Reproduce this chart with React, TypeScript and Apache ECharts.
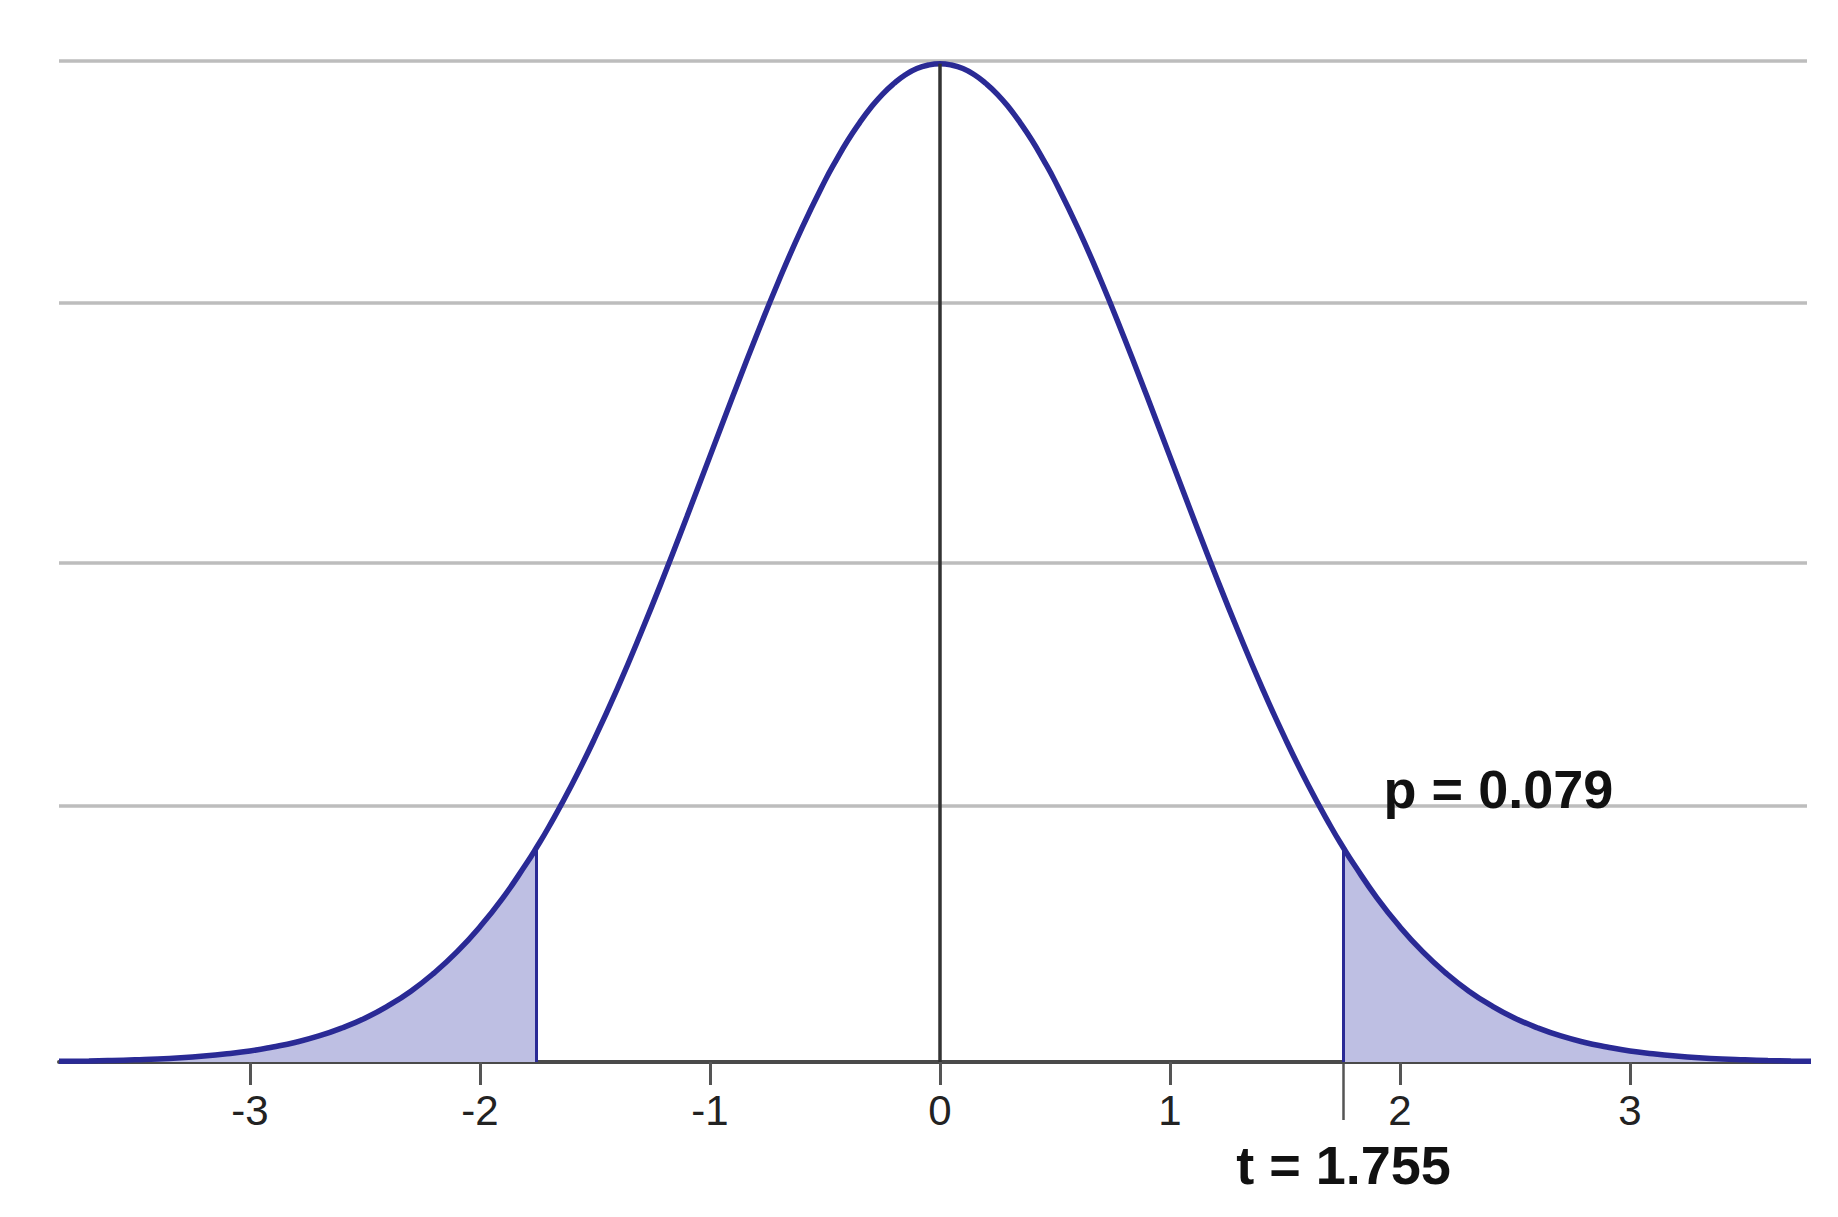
import React, { useEffect, useRef } from "react";
import * as echarts from "echarts";

// t values (x) and the density (y)
const tValues = [
  -3.83, -3.7, -3.6, -3.5, -3.4, -3.3, -3.2, -3.1, -3.0, -2.9, -2.8, -2.7, -2.6, -2.5, -2.4, -2.3, -2.2, -2.1, -2.0,
  -1.9, -1.8, -1.755, -1.7, -1.6, -1.5, -1.4, -1.3, -1.2, -1.1, -1.0, -0.9, -0.8, -0.7, -0.6,
  -0.5, -0.45, -0.4, -0.35, -0.3, -0.25, -0.2, -0.15, -0.1, -0.05,
  0, 0.05, 0.1, 0.15, 0.2, 0.25, 0.3, 0.35, 0.4, 0.45, 0.5,
  0.6, 0.7, 0.8, 0.9, 1.0, 1.1, 1.2, 1.3, 1.4, 1.5, 1.6, 1.7, 1.755, 1.8, 1.9,
  2.0, 2.1, 2.2, 2.3, 2.4, 2.5, 2.6, 2.7, 2.8, 2.9, 3.0, 3.1, 3.2, 3.3, 3.4, 3.5, 3.6, 3.7, 3.8,
];
const density = [
  0.0003, 0.0004, 0.0006, 0.0009, 0.0012, 0.0017, 0.0024, 0.0033, 0.0044, 0.006, 0.0079, 0.0104, 0.0136, 0.0175, 0.0224, 0.0283, 0.0355, 0.044, 0.054,
  0.0656, 0.079, 0.0855, 0.094, 0.1109, 0.1295, 0.1497, 0.1714, 0.1942, 0.2179, 0.242, 0.2661, 0.2897, 0.3123, 0.3332,
  0.3521, 0.3605, 0.3683, 0.3752, 0.3814, 0.3867, 0.391, 0.3945, 0.397, 0.3984,
  0.3989, 0.3984, 0.397, 0.3945, 0.391, 0.3867, 0.3814, 0.3752, 0.3683, 0.3605, 0.3521,
  0.3332, 0.3123, 0.2897, 0.2661, 0.242, 0.2179, 0.1942, 0.1714, 0.1497, 0.1295, 0.1109, 0.094, 0.0855, 0.079, 0.0656,
  0.054, 0.044, 0.0355, 0.0283, 0.0224, 0.0175, 0.0136, 0.0104, 0.0079, 0.006, 0.0044, 0.0033, 0.0024, 0.0017, 0.0012, 0.0009, 0.0006, 0.0004, 0.0003,
];

const tickValues = [-3, -2, -1, 0, 1, 2, 3];
// horizontal guide lines as they sit in the picture
const gridValues = [0, 0.1023, 0.1994, 0.3033, 0.4];
const xMin = -3.83;
const xMax = 3.77;
const yMin = 0;
const yMax = 0.4;

const tStat = 1.755;
const tStatDensity = 0.0855;
const peakDensity = 0.3989;
const pValue = "0.079";
const pLabelAt = [1.927, 0.1091];

const NAVY = "#2a2a95";
const FILL = "#bebfe3";
const FONT = "Liberation Sans, Arial, sans-serif";

export default function App() {
  const ref = useRef<HTMLDivElement>(null);

  useEffect(() => {
    if (!ref.current) return;
    const chart = echarts.init(ref.current, undefined, { renderer: "svg" });

    const curve = tValues.map((t, i) => [t, density[i]]);
    const leftTail = curve.filter(([t]) => t <= -tStat);
    const rightTail = curve.filter(([t]) => t >= tStat);

    const tailSeries = (data: number[][]) => ({
      type: "line",
      data,
      smooth: true,
      showSymbol: false,
      silent: true,
      lineStyle: { width: 0 },
      areaStyle: { color: FILL, opacity: 1 },
      z: 2,
    });

    chart.setOption({
      animation: false,
      backgroundColor: "#ffffff",
      grid: { left: 59, right: 31, top: 61, bottom: 155, outerBoundsMode: "none" },
      xAxis: [
        {
          type: "value",
          min: xMin,
          max: xMax,
          position: "bottom",
          axisLine: { show: true, onZero: false, lineStyle: { color: "#4a4a4a", width: 4 } },
          axisTick: { show: true, customValues: tickValues, length: 23, lineStyle: { color: "#555", width: 3 } },
          axisLabel: {
            show: true,
            customValues: tickValues,
            margin: 27,
            fontSize: 42,
            color: "#222",
            fontFamily: FONT,
          },
          splitLine: { show: false },
          z: 1,
        },
        {
          type: "value",
          min: xMin,
          max: xMax,
          position: "bottom",
          gridIndex: 0,
          axisLine: { show: false, onZero: false },
          axisTick: { show: true, customValues: [tStat], length: 58, lineStyle: { color: "#555", width: 2.5 } },
          axisLabel: {
            show: true,
            customValues: [tStat],
            formatter: () => `t = ${tStat}`,
            margin: 76,
            fontSize: 54,
            fontWeight: "bold",
            color: "#111",
            fontFamily: FONT,
          },
          splitLine: { show: false },
        },
      ],
      yAxis: {
        type: "value",
        min: yMin,
        max: yMax,
        axisLine: { show: false },
        axisTick: { show: false, customValues: gridValues },
        axisLabel: { show: false, customValues: gridValues },
        splitLine: { show: true, lineStyle: { color: "#bdbdbd", width: 3.5 } },
      },
      series: [
        tailSeries(leftTail),
        tailSeries(rightTail),
        {
          type: "line",
          data: curve,
          smooth: true,
          showSymbol: false,
          silent: true,
          clip: true,
          lineStyle: { color: NAVY, width: 5.5 },
          z: 3,
          markLine: {
            silent: true,
            symbol: ["none", "none"],
            label: { show: false },
            data: [
              [
                { coord: [0, 0], lineStyle: { color: "#333", width: 3.5, type: "solid" } },
                { coord: [0, peakDensity] },
              ],
              [
                { coord: [-tStat, 0], lineStyle: { color: NAVY, width: 3, type: "solid" } },
                { coord: [-tStat, tStatDensity] },
              ],
              [
                { coord: [tStat, 0], lineStyle: { color: NAVY, width: 3, type: "solid" } },
                { coord: [tStat, tStatDensity] },
              ],
            ],
          },
          markPoint: {
            silent: true,
            data: [
              {
                coord: pLabelAt,
                symbol: "circle",
                symbolSize: 1,
                itemStyle: { color: "rgba(0,0,0,0)" },
                label: {
                  show: true,
                  position: "right",
                  distance: 0,
                  formatter: `p = ${pValue}`,
                  fontSize: 54,
                  fontWeight: "bold",
                  color: "#111",
                  fontFamily: FONT,
                },
              },
            ],
          },
        },
      ],
    });

    return () => chart.dispose();
  }, []);

  return (
    <div
      ref={ref}
      style={{ position: "fixed", left: 0, top: 0, width: 1838, height: 1217, background: "#fff" }}
    />
  );
}
